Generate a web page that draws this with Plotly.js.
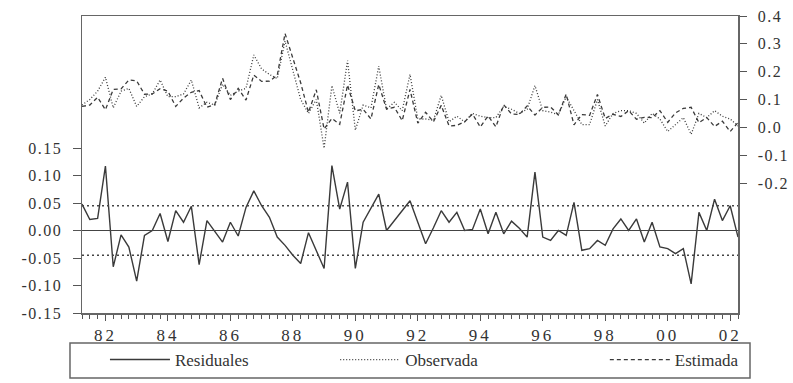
<!DOCTYPE html>
<html>
<head>
<meta charset="utf-8">
<script src="https://cdn.plot.ly/plotly-3.0.1.min.js"></script>
<style>
  html, body { margin: 0; padding: 0; background: #fff; }
  #chart { width: 793px; height: 383px; }
  #chart g.xtick text { letter-spacing: 3px; }
  #chart g.ytick text, #chart g.y2tick text { letter-spacing: 1.5px; }
</style>
</head>
<body>
<div id="chart"></div>
<script>
// ---------- data ----------
const periods = [
  "1981Q2","1981Q3","1981Q4",
  "1982Q1","1982Q2","1982Q3","1982Q4",
  "1983Q1","1983Q2","1983Q3","1983Q4",
  "1984Q1","1984Q2","1984Q3","1984Q4",
  "1985Q1","1985Q2","1985Q3","1985Q4",
  "1986Q1","1986Q2","1986Q3","1986Q4",
  "1987Q1","1987Q2","1987Q3","1987Q4",
  "1988Q1","1988Q2","1988Q3","1988Q4",
  "1989Q1","1989Q2","1989Q3","1989Q4",
  "1990Q1","1990Q2","1990Q3","1990Q4",
  "1991Q1","1991Q2","1991Q3","1991Q4",
  "1992Q1","1992Q2","1992Q3","1992Q4",
  "1993Q1","1993Q2","1993Q3","1993Q4",
  "1994Q1","1994Q2","1994Q3","1994Q4",
  "1995Q1","1995Q2","1995Q3","1995Q4",
  "1996Q1","1996Q2","1996Q3","1996Q4",
  "1997Q1","1997Q2","1997Q3","1997Q4",
  "1998Q1","1998Q2","1998Q3","1998Q4",
  "1999Q1","1999Q2","1999Q3","1999Q4",
  "2000Q1","2000Q2","2000Q3","2000Q4",
  "2001Q1","2001Q2","2001Q3","2001Q4",
  "2002Q1","2002Q2"
];

const residuales = [
  0.048, 0.020, 0.022, 0.117, -0.066, -0.008, -0.030, -0.092, -0.009, 0.000,
  0.031, -0.020, 0.036, 0.015, 0.044, -0.062, 0.018, -0.002, -0.021, 0.015,
  -0.010, 0.042, 0.072, 0.045, 0.024, -0.012, -0.027, -0.045, -0.060, -0.004,
  -0.035, -0.069, 0.118, 0.039, 0.088, -0.069, 0.015, 0.040, 0.066, 0.000,
  0.018, 0.036, 0.054, 0.015, -0.024, 0.005, 0.036, 0.015, 0.033, 0.000,
  0.002, 0.039, -0.006, 0.033, -0.006, 0.017, 0.004, -0.012, 0.106, -0.012,
  -0.018, 0.000, -0.009, 0.051, -0.036, -0.033, -0.018, -0.027, 0.003, 0.021,
  0.000, 0.021, -0.021, 0.015, -0.030, -0.033, -0.042, -0.033, -0.097, 0.033,
  0.000, 0.057, 0.018, 0.045, -0.012
];

const observada = [
  0.080, 0.100, 0.130, 0.180, 0.070, 0.130, 0.140, 0.075, 0.110, 0.120,
  0.170, 0.110, 0.110, 0.120, 0.170, 0.070, 0.090, 0.080, 0.155, 0.115,
  0.130, 0.140, 0.260, 0.210, 0.190, 0.175, 0.310, 0.200, 0.100, 0.050,
  0.100, -0.075, 0.150, 0.050, 0.240, -0.010, 0.080, 0.070, 0.220, 0.065,
  0.090, 0.060, 0.190, 0.030, 0.030, 0.025, 0.115, 0.020, 0.040, 0.020,
  0.050, 0.040, 0.035, 0.035, 0.075, 0.065, 0.050, 0.065, 0.150, 0.060,
  0.055, 0.045, 0.110, 0.060, 0.010, 0.010, 0.100, 0.005, 0.050, 0.060,
  0.060, 0.050, 0.015, 0.050, 0.030, -0.015, 0.010, 0.035, -0.025, 0.050,
  0.035, 0.060, 0.040, 0.030, 0.005
];

const estimada = [
  0.075, 0.080, 0.108, 0.063, 0.136, 0.138, 0.170, 0.167, 0.119, 0.120,
  0.139, 0.130, 0.075, 0.105, 0.126, 0.132, 0.072, 0.082, 0.176, 0.100,
  0.140, 0.098, 0.188, 0.165, 0.166, 0.187, 0.337, 0.245, 0.160, 0.054,
  0.135, -0.006, 0.032, 0.011, 0.152, 0.059, 0.065, 0.030, 0.154, 0.065,
  0.072, 0.024, 0.136, 0.015, 0.054, 0.020, 0.079, 0.005, 0.007, 0.020,
  0.048, 0.001, 0.041, 0.002, 0.081, 0.048, 0.046, 0.077, 0.044, 0.072,
  0.073, 0.045, 0.119, 0.009, 0.046, 0.043, 0.118, 0.032, 0.047, 0.039,
  0.060, 0.029, 0.036, 0.035, 0.060, 0.018, 0.052, 0.068, 0.072, 0.017,
  0.035, 0.003, 0.022, -0.015, 0.017
];

const errorEstandar = 0.045;

const xTickYears = [1982, 1984, 1986, 1988, 1990, 1992, 1994, 1996, 1998, 2000, 2002];
const xTickLabels = ["82", "84", "86", "88", "90", "92", "94", "96", "98", "00", "02"];
const leftTickVals = [-0.15, -0.10, -0.05, 0.00, 0.05, 0.10, 0.15];
const leftTickLabels = ["-0.15", "-0.10", "-0.05", "0.00", "0.05", "0.10", "0.15"];
const rightTickVals = [-0.2, -0.1, 0.0, 0.1, 0.2, 0.3, 0.4];
const rightTickLabels = ["-0.2", "-0.1", "0.0", "0.1", "0.2", "0.3", "0.4"];

// ---------- build ----------
const xs = periods.map(p => {
  const y = parseInt(p.slice(0, 4), 10);
  const q = parseInt(p.slice(5), 10);
  return y + (q - 1) / 4;
});

const serif = "'Liberation Serif', 'Times New Roman', serif";
const ink = "#3a3a3a";

const traces = [
  {
    x: xs, y: residuales, name: "Residuales", type: "scatter", mode: "lines",
    yaxis: "y", legend: "legend", line: { color: ink, width: 1.4, dash: "solid" }
  },
  {
    x: xs, y: observada, name: "Observada", type: "scatter", mode: "lines",
    yaxis: "y2", legend: "legend2", line: { color: ink, width: 1.3, dash: "1px,2px" }
  },
  {
    x: xs, y: estimada, name: "Estimada", type: "scatter", mode: "lines",
    yaxis: "y2", legend: "legend3", line: { color: ink, width: 1.3, dash: "4px,3px" }
  }
];

function legendAt(xPaper) {
  return {
    orientation: "h", x: xPaper, xanchor: "left", xref: "paper",
    y: 0.06, yanchor: "middle", yref: "container",
    borderwidth: 0, bgcolor: "rgba(0,0,0,0)",
    font: { family: serif, size: 17, color: "#333" },
    itemwidth: 60
  };
}

const layout = {
  width: 793, height: 383,
  margin: { l: 82, r: 55, t: 16, b: 70 },
  paper_bgcolor: "#fff", plot_bgcolor: "#fff",
  font: { family: serif, size: 16, color: "#333" },
  showlegend: true,
  legend: legendAt(0.035),
  legend2: legendAt(0.386),
  legend3: legendAt(0.797),
  xaxis: {
    range: [1981.25, 2002.25],
    tickmode: "array", tickvals: xTickYears, ticktext: xTickLabels,
    ticks: "outside", ticklen: 6, tickwidth: 1, tickcolor: "#555",
    minor: { dtick: 0.25, tick0: 1981.25, ticks: "outside", ticklen: 4, tickwidth: 1, tickcolor: "#555", showgrid: false },
    showline: true, linecolor: "#666", linewidth: 1.5, mirror: true,
    showgrid: false, zeroline: false,
    tickfont: { family: serif, size: 17, color: "#333" }
  },
  yaxis: {
    range: [-0.15, 0.39],
    tickmode: "array", tickvals: leftTickVals, ticktext: leftTickLabels,
    ticks: "outside", ticklen: 8, tickwidth: 1, tickcolor: "#555",
    ticklabelstandoff: 7,
    showline: true, linecolor: "#666", linewidth: 1.5,
    showgrid: false, zeroline: false,
    tickfont: { family: serif, size: 16, color: "#333" }
  },
  yaxis2: {
    range: [-0.667, 0.4], overlaying: "y", side: "right",
    tickmode: "array", tickvals: rightTickVals, ticktext: rightTickLabels,
    ticks: "outside", ticklen: 7, tickwidth: 1, tickcolor: "#555",
    ticklabelstandoff: 8,
    showline: true, linecolor: "#666", linewidth: 1.5,
    showgrid: false, zeroline: false,
    tickfont: { family: serif, size: 16, color: "#333" }
  },
  shapes: [
    { type: "line", xref: "paper", x0: 0, x1: 1, yref: "y", y0: 0, y1: 0,
      line: { color: "#444", width: 1.2 } },
    { type: "line", xref: "paper", x0: 0, x1: 1, yref: "y", y0: errorEstandar, y1: errorEstandar,
      line: { color: "#444", width: 1.3, dash: "2px,3px" } },
    { type: "line", xref: "paper", x0: 0, x1: 1, yref: "y", y0: -errorEstandar, y1: -errorEstandar,
      line: { color: "#444", width: 1.3, dash: "2px,3px" } },
    // legend frame
    { type: "rect", xref: "paper", x0: -0.0183, x1: 1.0183, yref: "paper", y0: -0.219, y1: -0.101,
      line: { color: "#666", width: 1.5 }, fillcolor: "rgba(0,0,0,0)", layer: "below" }
  ]
};

Plotly.newPlot("chart", traces, layout, { displayModeBar: false, staticPlot: true });
</script>
</body>
</html>
